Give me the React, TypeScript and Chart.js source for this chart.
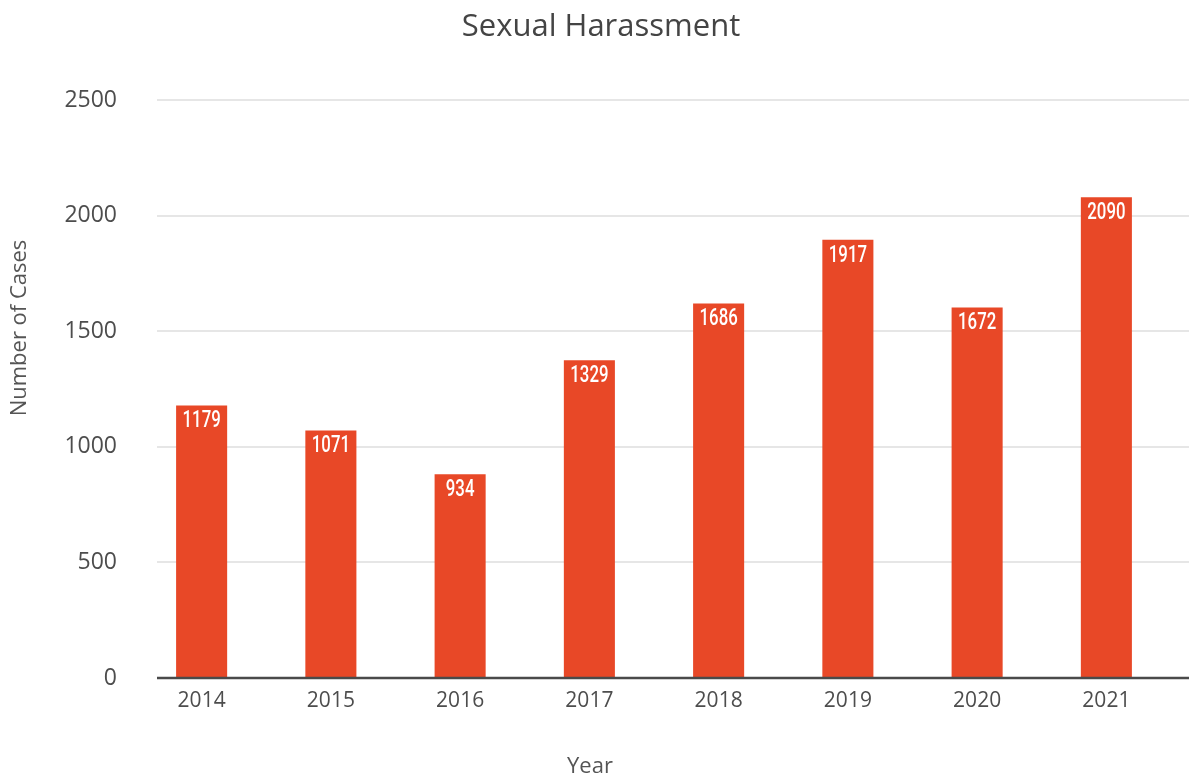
import React, { useEffect, useRef } from "react";
import { Chart, registerables } from "chart.js";

Chart.register(...registerables);

const years = ["2014", "2015", "2016", "2017", "2018", "2019", "2020", "2021"];
// bar heights as drawn in the picture
const barValues = [1179, 1071, 881, 1374, 1620, 1896, 1603, 2079];
// printed value labels
const valueLabels = ["1179", "1071", "934", "1329", "1686", "1917", "1672", "2090"];
const yTicks = [0, 500, 1000, 1500, 2000, 2500];

const W = 1189;
const H = 778;
const FONT = "'Open Sans', 'Lato', sans-serif";
const BAR = "#E84827";
const TEXT = "#4d4d4d";

const decor = {
  id: "decor",
  beforeDatasetsDraw(chart: any) {
    const { ctx } = chart;
    const y = chart.scales.y;
    ctx.save();
    ctx.strokeStyle = "#e6e6e6";
    ctx.lineWidth = 2;
    yTicks.forEach((v) => {
      if (v === 0) return;
      const py = Math.round(y.getPixelForValue(v));
      ctx.beginPath();
      ctx.moveTo(157, py);
      ctx.lineTo(W, py);
      ctx.stroke();
    });
    ctx.restore();
  },
  afterDatasetsDraw(chart: any) {
    const { ctx } = chart;
    const y = chart.scales.y;
    const meta = chart.getDatasetMeta(0);
    ctx.save();
    // value labels
    ctx.fillStyle = "#ffffff";
    ctx.textAlign = "center";
    ctx.textBaseline = "top";
    ctx.font = "500 24px 'Roboto', 'DejaVu Sans Condensed', sans-serif";
    meta.data.forEach((bar: any, i: number) => {
      ctx.save();
      ctx.translate(bar.x, bar.y + 4);
      ctx.scale(0.7, 1);
      ctx.fillText(valueLabels[i], 0, 0);
      ctx.restore();
    });
    // baseline
    const py = y.getPixelForValue(0);
    ctx.strokeStyle = "#4a4a4a";
    ctx.lineWidth = 2.5;
    ctx.beginPath();
    ctx.moveTo(157, py);
    ctx.lineTo(W, py);
    ctx.stroke();
    // title
    ctx.fillStyle = "#444444";
    ctx.font = `400 31px ${FONT}`;
    ctx.textAlign = "center";
    ctx.textBaseline = "middle";
    ctx.fillText("Sexual Harassment", 601, 27);
    // axis titles
    ctx.fillStyle = "#555555";
    ctx.font = `400 22px ${FONT}`;
    ctx.fillText("Year", 590, 767);
    ctx.save();
    ctx.translate(20, 328);
    ctx.rotate(-Math.PI / 2);
    ctx.fillText("Number of Cases", 0, 0);
    ctx.restore();
    ctx.restore();
  },
};

export default function App() {
  const ref = useRef<HTMLCanvasElement>(null);
  useEffect(() => {
    document.body.style.margin = "0";
    const chart = new Chart(ref.current!, {
      type: "bar",
      data: {
        labels: years,
        datasets: [
          {
            data: barValues,
            backgroundColor: BAR,
            categoryPercentage: 1,
            barPercentage: 0.395,
          },
        ],
      },
      options: {
        responsive: false,
        animation: false,
        devicePixelRatio: 1,
        layout: { padding: { top: 100, right: 18, left: 0, bottom: 0 } },
        plugins: { legend: { display: false }, tooltip: { enabled: false }, title: { display: false } },
        scales: {
          x: {
            offset: true,
            grid: { display: false, drawTicks: false },
            border: { display: false },
            ticks: { color: TEXT, font: { family: FONT, size: 21 }, padding: 10 },
            afterFit: (s: any) => {
              s.height = 100;
            },
          },
          y: {
            min: 0,
            max: 2500,
            afterBuildTicks: (s: any) => {
              s.ticks = yTicks.map((v) => ({ value: v }));
            },
            grid: { display: false, drawTicks: false },
            border: { display: false },
            ticks: {
              color: TEXT,
              font: { family: FONT, size: 23 },
              padding: 20,
              callback: (v: any) => String(v),
            },
            afterFit: (s: any) => {
              s.width = 137;
            },
          },
        },
      },
      plugins: [decor],
    });
    return () => chart.destroy();
  }, []);
  return (
    <div style={{ width: W, height: H, background: "#fff" }}>
      <canvas ref={ref} width={W} height={H} />
    </div>
  );
}
